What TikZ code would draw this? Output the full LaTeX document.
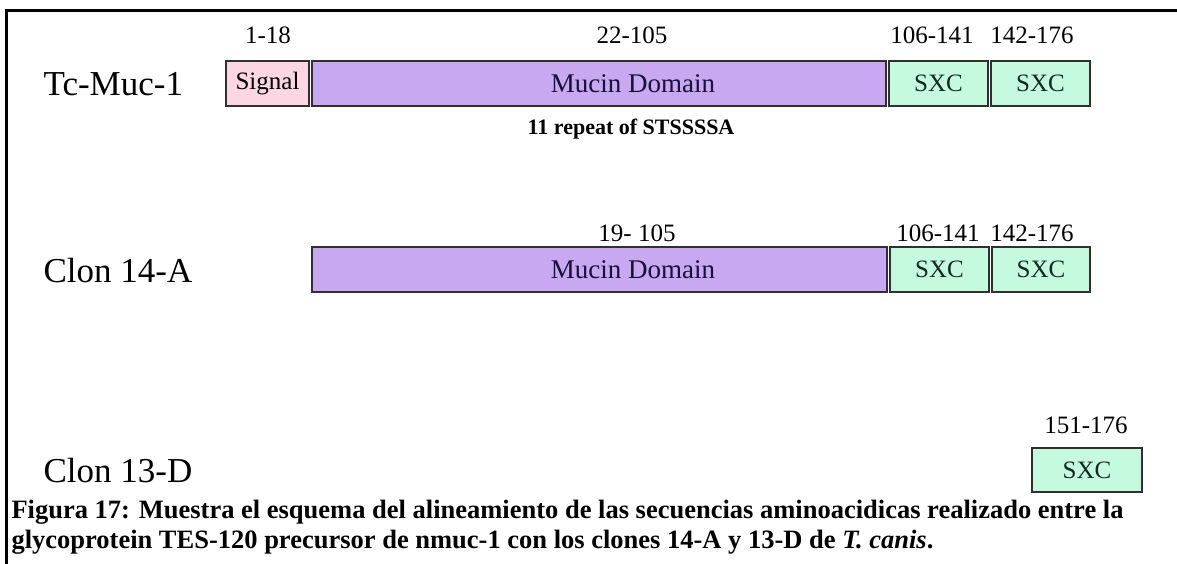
\documentclass[tikz,border=0pt]{standalone}
\usepackage{fontspec}
\setmainfont{Liberation Serif}
\definecolor{sigpink}{RGB}{252,214,226}
\definecolor{mucpurple}{RGB}{200,168,240}
\definecolor{sxcgreen}{RGB}{198,250,222}
\definecolor{boxgray}{RGB}{48,48,48}
\definecolor{muctext}{RGB}{26,14,60}
\definecolor{sxctext}{RGB}{16,44,30}
\tikzset{
  dom/.style={draw=boxgray,line width=1.5pt,minimum height=45pt,inner sep=0pt,font=\fontsize{25}{30}\selectfont},
  domtext/.style={font=\fontsize{27}{30}\selectfont,text=muctext},
  rangelabel/.style={anchor=base,font=\fontsize{25}{30}\selectfont},
  rowname/.style={anchor=base west,font=\fontsize{35}{40}\selectfont},
}
\begin{document}
\begin{tikzpicture}[x=1pt,y=-1pt]
    \useasboundingbox (0,0) rectangle (1177,564);
    % frame
    \draw[line width=3pt] (6,564) -- (6,11) -- (1177,11);
    % Tc-Muc-1
    \node[rowname] at (40,96) (tcmuc) {Tc-Muc-1};
    \node[rangelabel] at (268,44) (ra1) {1-18};
    \node[rangelabel] at (632,44) (ra2) {22-105};
    \node[rangelabel] at (932,44) (ra3) {106-141};
    \node[rangelabel] at (1032,44) (ra4) {142-176};
    \node[dom,fill=sigpink,minimum width=83pt] at (267.5,83.5) (sig) {Signal};
    \node[dom,fill=mucpurple,minimum width=574pt] at (599,83.5) (muca) {};
    \node[domtext] at (633,83.5) (mucatext) {Mucin Domain};
    \node[dom,fill=sxcgreen,text=sxctext,minimum width=99pt] at (938.5,83.5) (sxcaa) {SXC};
    \node[dom,fill=sxcgreen,text=sxctext,minimum width=99pt] at (1040.5,83.5) (sxcab) {SXC};
    \node[anchor=base,font=\bfseries\fontsize{22}{26}\selectfont] at (631,135) (rep) {11 repeat of STSSSSA};
    % Clon 14-A
    \node[rowname] at (40,282) (clona) {Clon 14-A};
    \node[rangelabel] at (637,241) (rb1) {19- 105};
    \node[rangelabel] at (938,241) (rb2) {106-141};
    \node[rangelabel] at (1032,241) (rb3) {142-176};
    \node[dom,fill=mucpurple,minimum width=575pt] at (599.5,269.5) (mucb) {};
    \node[domtext] at (633,269.5) (mucbtext) {Mucin Domain};
    \node[dom,fill=sxcgreen,text=sxctext,minimum width=99pt] at (939.5,269.5) (sxcba) {SXC};
    \node[dom,fill=sxcgreen,text=sxctext,minimum width=98pt] at (1041,269.5) (sxcbb) {SXC};
    % Clon 13-D
    \node[rowname] at (40,482) (clond) {Clon 13-D};
    \node[rangelabel] at (1086,433) (rc1) {151-176};
    \node[dom,fill=sxcgreen,text=sxctext,minimum width=110pt,minimum height=44pt] at (1087,470) (sxcc) {SXC};
    % caption
    \node[anchor=base west,align=left,font=\bfseries\fontsize{26.5}{30}\selectfont] at (8,548) (capt)
      {Figura 17: Muestra el esquema del alineamiento de las secuencias aminoacidicas realizado entre la\\
       glycoprotein TES-120 precursor de nmuc-1 con los clones 14-A y 13-D de \textit{T. canis}.};
\end{tikzpicture}
\end{document}
